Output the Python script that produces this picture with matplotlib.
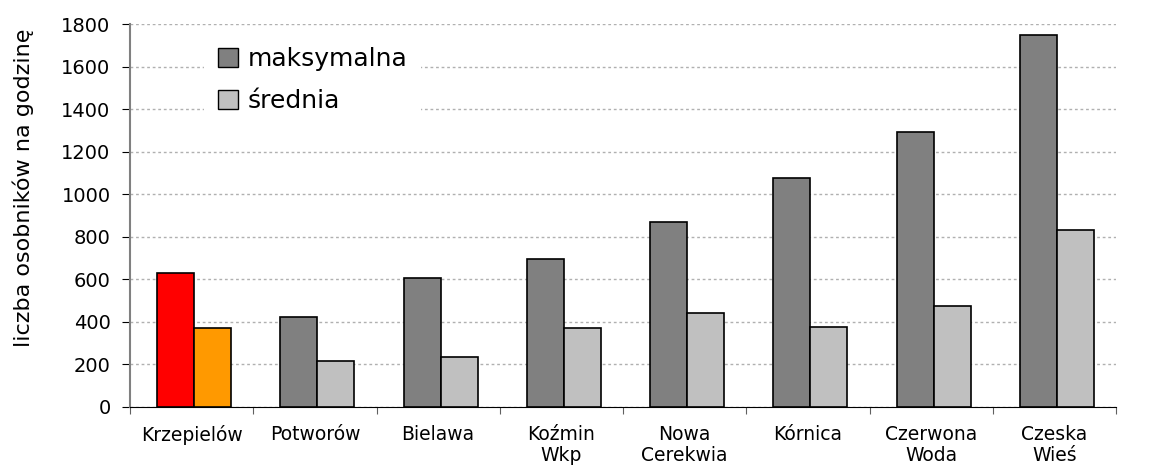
import matplotlib.pyplot as plt
import matplotlib.patches as mpatches
import numpy as np

LOCATIONS = ["Krzepielów", "Potworów", "Bielawa", "Koźmin\nWkp", "Nowa\nCerekwia",
             "Kórnica", "Czerwona\nWoda", "Czeska\nWieś"]
MAX_VALUES = [630, 423, 606, 695, 870, 1075, 1292, 1748]
MEAN_VALUES = [370, 218, 235, 370, 440, 375, 477, 832]

GREY_DARK = "#808080"
GREY_LIGHT = "#c0c0c0"
# highlighted first location
HIGHLIGHT_MAX = "#ff0000"
HIGHLIGHT_MEAN = "#ff9900"


def main() -> None:
    fig = plt.figure(figsize=(11.56, 4.66), dpi=100)
    ax = fig.add_axes([130 / 1156, 1 - 407 / 466, 986 / 1156, 383 / 466])

    x = np.arange(len(LOCATIONS))
    w = 0.3
    max_colors = [HIGHLIGHT_MAX] + [GREY_DARK] * (len(x) - 1)
    mean_colors = [HIGHLIGHT_MEAN] + [GREY_LIGHT] * (len(x) - 1)
    ax.bar(x - w / 2 + 0.02, MAX_VALUES, w, color=max_colors, edgecolor="black",
           linewidth=1.2, zorder=3)
    ax.bar(x + w / 2 + 0.02, MEAN_VALUES, w, color=mean_colors, edgecolor="black",
           linewidth=1.2, zorder=3)

    ax.set_xlim(-0.5, len(x) - 0.5)
    ax.set_ylim(0, 1800)
    ax.set_yticks(range(0, 1801, 200))
    ax.yaxis.grid(True, color="#b0b0b0", linestyle=(0, (2, 2)), linewidth=1)
    ax.set_axisbelow(True)

    ax.set_xticks(np.arange(-0.5, len(x)), minor=False)
    ax.set_xticklabels([])
    ax.set_xticks(x, minor=True)
    ax.set_xticklabels(LOCATIONS, minor=True, fontsize=13.5, linespacing=1.1)
    ax.tick_params(axis="x", which="major", direction="out", length=5, color="#606060")
    ax.tick_params(axis="x", which="minor", length=0, pad=13)
    ax.tick_params(axis="y", direction="out", length=6, labelsize=14, pad=8)

    for side in ("top", "right"):
        ax.spines[side].set_visible(False)
    ax.spines["left"].set_color("#808080")
    ax.spines["left"].set_linewidth(1.5)
    ax.spines["bottom"].set_color("black")

    fig.text(0.02, 1 - 347 / 466, "liczba osobników na godzinę", rotation=90,
             ha="center", va="bottom", fontsize=16)

    handles = [mpatches.Patch(facecolor=GREY_DARK, edgecolor="black", label="maksymalna"),
               mpatches.Patch(facecolor=GREY_LIGHT, edgecolor="black", label="średnia")]
    leg = ax.legend(handles=handles, loc="upper left", bbox_to_anchor=(0.075, 0.975),
                    borderaxespad=0, fontsize=18, frameon=True, fancybox=False,
                    handlelength=0.8, handleheight=0.8, handletextpad=0.4,
                    labelspacing=0.7, borderpad=0.55)
    leg.get_frame().set_edgecolor("none")
    leg.get_frame().set_facecolor("white")
    leg.get_frame().set_alpha(1)

    fig.savefig("out.png", dpi=100)


if __name__ == "__main__":
    main()
